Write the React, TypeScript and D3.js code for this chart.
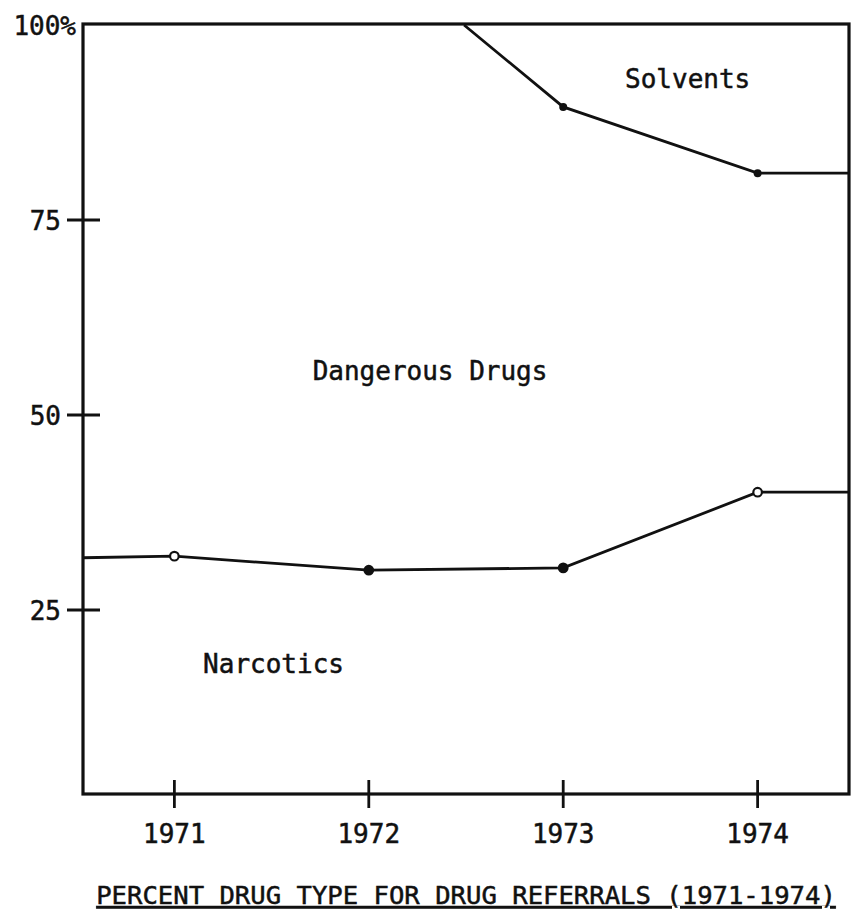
import * as d3 from "d3";

// boundary between narcotics and dangerous drugs (percent, cumulative)
const narcYears = [1971, 1972, 1973, 1974];
const narcValues = [31.9, 30.1, 30.4, 40.1];
const narcMarkerOpen = [true, false, false, true];

// boundary between dangerous drugs and solvents; solvents appear mid 1972
const solvYears = [1972.49, 1973, 1974];
const solvValues = [100, 89.5, 81.0];
const solvMarkers = [false, true, true];

const xTicks = [1971, 1972, 1973, 1974];
const yTicks = [25, 50, 75, 100];

const areaLabels = [
  { text: "Solvents", year: 1973.64, value: 91.9 },
  { text: "Dangerous Drugs", year: 1972.315, value: 54.5 },
  { text: "Narcotics", year: 1971.51, value: 16.9 },
];

const title = "PERCENT DRUG TYPE FOR DRUG REFERRALS (1971-1974)";

const W = 856;
const H = 918;
const frame = { left: 83, right: 849, top: 24, bottom: 794 };
const font = "'DejaVu Sans Mono', monospace";
const ink = "#111";

export default function App() {
  const x = d3.scaleLinear().domain([1970.53, 1974.47]).range([frame.left, frame.right]);
  const y = d3.scaleLinear().domain([0, 100]).range([805, 25]);
  const xMin = x.domain()[0];
  const xMax = x.domain()[1];

  const line = d3
    .line<[number, number]>()
    .x((d) => x(d[0]))
    .y((d) => y(d[1]));

  // narcotics line extends flat to the frame on both sides
  const narcPts: [number, number][] = [
    [xMin, narcValues[0] - 0.2],
    ...narcYears.map((yr, i) => [yr, narcValues[i]] as [number, number]),
    [xMax, narcValues[narcValues.length - 1]],
  ];
  const solvPts: [number, number][] = [
    ...solvYears.map((yr, i) => [yr, solvValues[i]] as [number, number]),
    [xMax, solvValues[solvValues.length - 1]],
  ];

  const textProps = { fill: ink, stroke: ink, strokeWidth: 0.5 };

  return (
    <svg
      width={W}
      height={H}
      style={{ position: "absolute", left: 0, top: 0, background: "#fff" }}
      fontFamily={font}
    >
      {/* data lines */}
      <path d={line(narcPts)!} fill="none" stroke={ink} strokeWidth={2.8} />
      <path d={line(solvPts)!} fill="none" stroke={ink} strokeWidth={2.8} />

      {narcYears.map((yr, i) => (
        <circle
          key={"n" + yr}
          cx={x(yr)}
          cy={y(narcValues[i])}
          r={4.3}
          fill={narcMarkerOpen[i] ? "#fff" : ink}
          stroke={ink}
          strokeWidth={2.2}
        />
      ))}
      {solvYears.map((yr, i) =>
        solvMarkers[i] ? (
          <circle key={"s" + yr} cx={x(yr)} cy={y(solvValues[i])} r={4} fill={ink} />
        ) : null
      )}

      {/* frame */}
      <rect
        x={frame.left}
        y={frame.top}
        width={frame.right - frame.left}
        height={frame.bottom - frame.top}
        fill="none"
        stroke={ink}
        strokeWidth={3.2}
      />

      {/* y ticks */}
      {yTicks.map((t) => (
        <g key={"y" + t}>
          {t < 100 && (
            <line x1={frame.left - 16} x2={frame.left + 17} y1={y(t)} y2={y(t)} stroke={ink} strokeWidth={2.8} />
          )}
          <text
            x={t === 100 ? frame.left - 7 : frame.left - 22}
            y={y(t) + 10}
            textAnchor="end"
            fontSize={26}
            {...textProps}
          >
            {t === 100 ? "100%" : String(t)}
          </text>
        </g>
      ))}

      {/* x ticks */}
      {xTicks.map((t) => (
        <g key={"x" + t}>
          <line x1={x(t)} x2={x(t)} y1={frame.bottom - 14} y2={frame.bottom + 14} stroke={ink} strokeWidth={2.8} />
          <text x={x(t)} y={843} textAnchor="middle" fontSize={26} {...textProps}>
            {t}
          </text>
        </g>
      ))}

      {/* region labels */}
      {areaLabels.map((l) => (
        <text key={l.text} x={x(l.year)} y={y(l.value)} textAnchor="middle" fontSize={26} {...textProps}>
          {l.text}
        </text>
      ))}

      <text
        x={466}
        y={904}
        textAnchor="middle"
        fontSize={25.6}
        textDecoration="underline"
        {...textProps}
      >
        {title}
      </text>
    </svg>
  );
}
